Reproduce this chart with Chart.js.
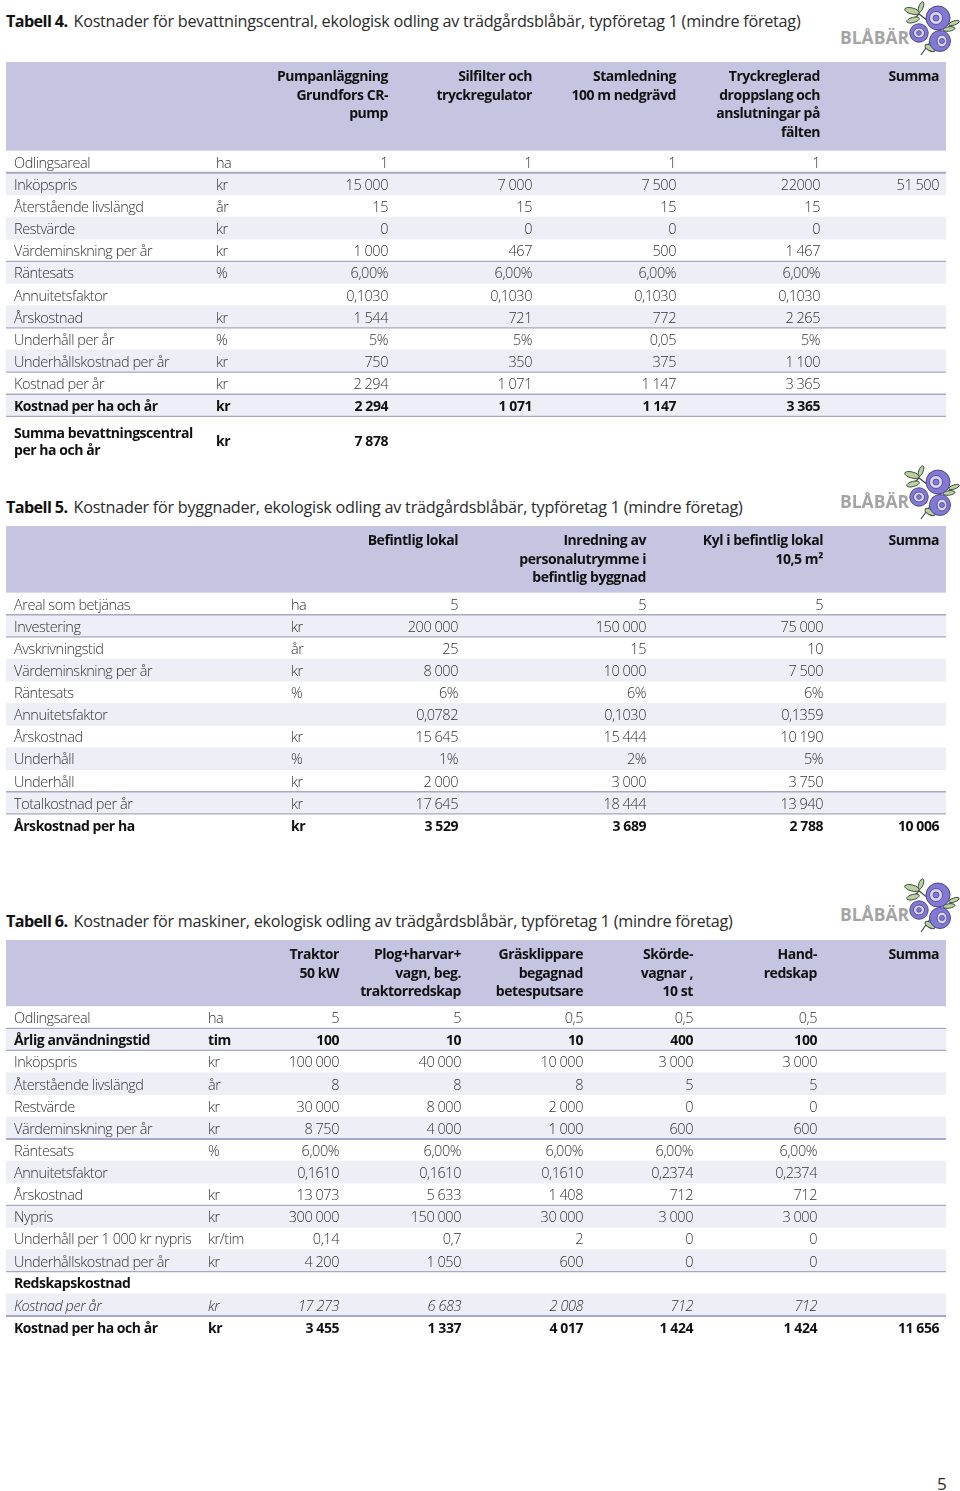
<!DOCTYPE html>
<html lang="sv">
<head>
<meta charset="utf-8">
<title>Tabell 4-6 Blåbär</title>
<script src="https://cdn.jsdelivr.net/npm/chart.js@4/dist/chart.umd.min.js"></script>
<style>
  html, body { margin: 0; padding: 0; background: #fff; }
  body { position: relative; width: 960px; height: 1491px; overflow: hidden; font-family: "Open Sans", sans-serif; color: #2b2b2b; }
  .tabell-titel { position: absolute; left: 6px; font-size: 16.2px; line-height: 20px; letter-spacing: -0.25px; white-space: nowrap; }
  .tabell-titel b { color: #111; font-weight: 700; letter-spacing: -0.6px; margin-right: 2px; }
  canvas { position: absolute; left: 6px; }
  .logo { position: absolute; left: 835px; width: 125px; height: 62px; }
  #sida { position: absolute; left: 937px; top: 1474px; font-size: 17px; line-height: 20px; }
</style>
</head>
<body>
<svg width="0" height="0" style="position:absolute">
  <symbol id="logo" viewBox="0 0 125 62">
    <path d="M86 55 L98 38 M92 47 L96 49 M78 9 L104 30 M84 12 L86 6 M84 14 L78 20 M110 29 L118 25" stroke="#3d4a3c" stroke-width="1.2" fill="none"/>
    <g fill="#b9d0a0" stroke="#3d4a3c" stroke-width="0.9">
      <ellipse cx="77" cy="11" rx="7.5" ry="3" transform="rotate(15 77 11)"/>
      <ellipse cx="86" cy="7" rx="5.5" ry="2.2" transform="rotate(-70 86 7)"/>
      <ellipse cx="78" cy="20" rx="6.5" ry="2.6" transform="rotate(-15 78 20)"/>
      <ellipse cx="119" cy="23" rx="5.5" ry="2" transform="rotate(-20 119 23)"/>
      <ellipse cx="114" cy="29" rx="6" ry="2.2" transform="rotate(-8 114 29)"/>
      <ellipse cx="95" cy="48" rx="5.5" ry="2.6" transform="rotate(30 95 48)"/>
    </g>
    <g fill="#8279d3" stroke="#4d4796" stroke-width="1">
      <circle cx="103" cy="18" r="12"/>
      <circle cx="105" cy="41" r="10.5"/>
      <circle cx="84" cy="33" r="9.2"/>
    </g>
    <g fill="#d9d6f2" stroke="#4d4796" stroke-width="0.9">
      <ellipse cx="101" cy="18" rx="6.5" ry="6.5"/>
      <ellipse cx="107" cy="41" rx="5" ry="6"/>
      <ellipse cx="84" cy="33" rx="5.5" ry="5"/>
    </g>
    <g fill="#8279d3" stroke="#4d4796" stroke-width="0.8">
      <circle cx="101" cy="18" r="3"/>
      <circle cx="107" cy="41" r="2.5"/>
      <circle cx="84" cy="33" r="2.3"/>
    </g>
    <text x="5" y="44" font-family="'Open Sans', sans-serif" font-weight="700" font-size="18" textLength="69" lengthAdjust="spacingAndGlyphs" fill="#a4a4a4">BLÅBÄR</text>
  </symbol>
</svg>

<div class="tabell-titel" style="top:11px"><b>Tabell 4.</b> Kostnader för bevattningscentral, ekologisk odling av trädgårdsblåbär, typföretag 1 (mindre företag)</div>
<svg class="logo" style="top:0"><use href="#logo"/></svg>
<canvas id="tabell4"></canvas>

<div class="tabell-titel" style="top:497px"><b>Tabell 5.</b> Kostnader för byggnader, ekologisk odling av trädgårdsblåbär, typföretag 1 (mindre företag)</div>
<svg class="logo" style="top:464px"><use href="#logo"/></svg>
<canvas id="tabell5"></canvas>

<div class="tabell-titel" style="top:911px"><b>Tabell 6.</b> Kostnader för maskiner, ekologisk odling av trädgårdsblåbär, typföretag 1 (mindre företag)</div>
<svg class="logo" style="top:877px"><use href="#logo"/></svg>
<canvas id="tabell6"></canvas>

<div id="sida">5</div>

<script>
// Tabell 4
const t4Rader = ['Odlingsareal', 'Inköpspris', 'Återstående livslängd', 'Restvärde', 'Värdeminskning per år', 'Räntesats', 'Annuitetsfaktor', 'Årskostnad', 'Underhåll per år', 'Underhållskostnad per år', 'Kostnad per år', 'Kostnad per ha och år', ['Summa bevattningscentral', 'per ha och år']];
const t4Enheter = ['ha', 'kr', 'år', 'kr', 'kr', '%', '', 'kr', '%', 'kr', 'kr', 'kr', 'kr'];
const t4Rubriker = [['Pumpanläggning', 'Grundfors CR-', 'pump'], ['Silfilter och', 'tryckregulator'], ['Stamledning', '100 m nedgrävd'], ['Tryckreglerad', 'droppslang och', 'anslutningar på', 'fälten'], ['Summa']];
const t4Pump = ['1', '15 000', '15', '0', '1 000', '6,00%', '0,1030', '1 544', '5%', '750', '2 294', '2 294', '7 878'];
const t4Silfilter = ['1', '7 000', '15', '0', '467', '6,00%', '0,1030', '721', '5%', '350', '1 071', '1 071', ''];
const t4Stamledning = ['1', '7 500', '15', '0', '500', '6,00%', '0,1030', '772', '0,05', '375', '1 147', '1 147', ''];
const t4Droppslang = ['1', '22000', '15', '0', '1 467', '6,00%', '0,1030', '2 265', '5%', '1 100', '3 365', '3 365', ''];
const t4Summa = ['', '51 500', '', '', '', '', '', '', '', '', '', '', ''];

// Tabell 5
const t5Rader = ['Areal som betjänas', 'Investering', 'Avskrivningstid', 'Värdeminskning per år', 'Räntesats', 'Annuitetsfaktor', 'Årskostnad', 'Underhåll', 'Underhåll', 'Totalkostnad per år', 'Årskostnad per ha'];
const t5Enheter = ['ha', 'kr', 'år', 'kr', '%', '', 'kr', '%', 'kr', 'kr', 'kr'];
const t5Rubriker = [['Befintlig lokal'], ['Inredning av', 'personalutrymme i', 'befintlig byggnad'], ['Kyl i befintlig lokal', '10,5 m²'], ['Summa']];
const t5Lokal = ['5', '200 000', '25', '8 000', '6%', '0,0782', '15 645', '1%', '2 000', '17 645', '3 529'];
const t5Inredning = ['5', '150 000', '15', '10 000', '6%', '0,1030', '15 444', '2%', '3 000', '18 444', '3 689'];
const t5Kyl = ['5', '75 000', '10', '7 500', '6%', '0,1359', '10 190', '5%', '3 750', '13 940', '2 788'];
const t5Summa = ['', '', '', '', '', '', '', '', '', '', '10 006'];

// Tabell 6
const t6Rader = ['Odlingsareal', 'Årlig användningstid', 'Inköpspris', 'Återstående livslängd', 'Restvärde', 'Värdeminskning per år', 'Räntesats', 'Annuitetsfaktor', 'Årskostnad', 'Nypris', 'Underhåll per 1 000 kr nypris', 'Underhållskostnad per år', 'Redskapskostnad', 'Kostnad per år', 'Kostnad per ha och år'];
const t6Enheter = ['ha', 'tim', 'kr', 'år', 'kr', 'kr', '%', '', 'kr', 'kr', 'kr/tim', 'kr', '', 'kr', 'kr'];
const t6Rubriker = [['Traktor', '50 kW'], ['Plog+harvar+', 'vagn, beg.', 'traktorredskap'], ['Gräsklippare', 'begagnad', 'betesputsare'], ['Skörde-', 'vagnar ,', '10 st'], ['Hand-', 'redskap'], ['Summa']];
const t6Traktor = ['5', '100', '100 000', '8', '30 000', '8 750', '6,00%', '0,1610', '13 073', '300 000', '0,14', '4 200', '', '17 273', '3 455'];
const t6Plog = ['5', '10', '40 000', '8', '8 000', '4 000', '6,00%', '0,1610', '5 633', '150 000', '0,7', '1 050', '', '6 683', '1 337'];
const t6Gras = ['0,5', '10', '10 000', '8', '2 000', '1 000', '6,00%', '0,1610', '1 408', '30 000', '2', '600', '', '2 008', '4 017'];
const t6Skorde = ['0,5', '400', '3 000', '5', '0', '600', '6,00%', '0,2374', '712', '3 000', '0', '0', '', '712', '1 424'];
const t6Hand = ['0,5', '100', '3 000', '5', '0', '600', '6,00%', '0,2374', '712', '3 000', '0', '0', '', '712', '1 424'];
const t6Summa = ['', '', '', '', '', '', '', '', '', '', '', '', '', '', '11 656'];

const FONT = '"Open Sans"';
const FONT_SIZE = 14.5;
const FET_SIZE = 14;
const SPARNING = '-0.45px';
const LINJE = 18.7;
const TEXT_NER = 1.8;
const FARG_RUBRIK = '#c5c4e1';
const FARG_RAND = '#eeeef7';
const FARG_LINJE = '#a8a7c8';
const FARG_TEXT = '#333';
const FARG_FET = '#111';

function radStil(tabell, i) {
    const fet = tabell.fet.includes(i);
    const kursiv = tabell.kursiv.includes(i);
    return {
        color: fet ? FARG_FET : FARG_TEXT,
        font: { family: FONT, size: fet ? FET_SIZE : FONT_SIZE, weight: fet ? '700' : '300', style: kursiv ? 'italic' : 'normal' }
    };
}

// ritar cellernas text vid de punkter som skalorna räknat ut
const celltext = {
    id: 'celltext',
    afterDatasetsDraw(chart) {
        const ctx = chart.ctx;
        ctx.save();
        ctx.textBaseline = 'middle';
        chart.data.datasets.forEach((ds, d) => {
            if (!ds.celler) return;
            chart.getDatasetMeta(d).data.forEach((el, i) => {
                if (!ds.celler[i]) return;
                const stil = radStil(chart.options.tabell, i);
                ctx.font = `${stil.font.style} ${stil.font.weight} ${stil.font.size}px ${stil.font.family}`;
                ctx.fillStyle = stil.color;
                ctx.textAlign = ds.justering;
                ctx.fillText(ds.celler[i], el.x, el.y);
            });
        });
        ctx.restore();
    }
};

const rubrikband = {
    id: 'rubrikband',
    beforeDraw(chart) {
        const s = chart.scales.x;
        chart.ctx.letterSpacing = SPARNING;
        chart.ctx.fillStyle = FARG_RUBRIK;
        chart.ctx.fillRect(s.left, s.top, s.width, s.height);
    }
};

function ritaTabell(id, t) {
    const topp = [];
    let y = 0;
    t.hojder.forEach(h => { topp.push(y); y += h; });
    const mitter = t.hojder.map((h, i) => topp[i] + h / 2);
    const botten = t.hojder.map((h, i) => topp[i] + h);
    const textY = mitter.map(m => m + TEXT_NER);
    const totalt = y;

    const canvas = document.getElementById(id);
    canvas.style.top = t.top + 'px';
    canvas.width = 940;
    canvas.height = t.rubrikHojd + totalt;

    const maxRader = Math.max(...t.rubriker.map(r => r.length));
    const rubrikPadding = t.rubrikHojd - 23 - (maxRader - 0.5) * LINJE;

    const datasets = [{
        type: 'bar', order: 3, barThickness: R, backgroundColor: FARG_RAND, borderWidth: 0, borderSkipped: false,
        data: t.randade.map(i => ({ x: [6, 946], y: mitter[i] }))
    }];
    const linje = (i, tjocklek) => ({
        type: 'line', order: 2, borderColor: FARG_LINJE, borderWidth: tjocklek, pointRadius: 0,
        data: [{ x: 6, y: botten[i] }, { x: 946, y: botten[i] }]
    });
    t.linjer.forEach(i => datasets.push(linje(i, 1.3)));
    t.tjockaLinjer.forEach(i => datasets.push(linje(i, 2)));
    const kolumn = (celler, xpos, justering) => ({
        type: 'scatter', order: 1, pointRadius: 0, celler: celler, justering: justering,
        data: celler.map((c, i) => ({ x: xpos, y: textY[i] }))
    });
    datasets.push(kolumn(t.enheter, t.enhetX, 'left'));
    t.kolumner.forEach((k, i) => datasets.push(kolumn(k, t.kanter[i], 'right')));

    new Chart(canvas, {
        type: 'bar',
        data: { datasets: datasets },
        plugins: [rubrikband, celltext],
        options: {
            tabell: t,
            indexAxis: 'y',
            responsive: false,
            animation: false,
            layout: { padding: 0 },
            plugins: { legend: { display: false }, title: { display: false }, tooltip: { enabled: false } },
            scales: {
                x: {
                    type: 'linear', position: 'top', min: 6, max: 946,
                    grid: { display: false }, border: { display: false },
                    afterBuildTicks: s => { s.ticks = t.kanter.map(v => ({ value: v })); },
                    afterFit: s => { s.height = t.rubrikHojd; s.paddingLeft = 0; s.paddingRight = 0; },
                    ticks: {
                        autoSkip: false, minRotation: 0, maxRotation: 0, align: 'end', crossAlign: 'far',
                        padding: rubrikPadding, color: FARG_FET,
                        font: { family: FONT, size: FET_SIZE, weight: '700', lineHeight: LINJE / FET_SIZE },
                        callback: (v, i) => t.rubriker[i]
                    }
                },
                y: {
                    type: 'linear', position: 'left', reverse: true, offset: false, min: 0, max: totalt,
                    grid: { display: false, drawTicks: false }, border: { display: false },
                    afterBuildTicks: s => { s.ticks = textY.map(v => ({ value: v })); },
                    // etiketterna får inte krympa ritytan
                    afterFit: s => { s.width = 0; s.paddingTop = 0; s.paddingBottom = 0; },
                    ticks: {
                        z: 1, mirror: true, padding: 8, autoSkip: false,
                        color: c => radStil(t, c.index).color,
                        font: c => Object.assign({ lineHeight: 18 / FONT_SIZE }, radStil(t, c.index).font),
                        callback: (v, i) => t.rader[i]
                    }
                }
            }
        }
    });
}

const R = 22.15;

ritaTabell('tabell4', {
    top: 62, rubrikHojd: 88.6,
    hojder: [R, R, R, R, R, R, R, R, R, R, R, R, 48.6],
    rader: t4Rader, enheter: t4Enheter, rubriker: t4Rubriker,
    kolumner: [t4Pump, t4Silfilter, t4Stamledning, t4Droppslang, t4Summa],
    kanter: [388, 532, 676, 820, 939], enhetX: 216,
    randade: [1, 3, 5, 7, 9, 11], linjer: [4, 7, 9, 10, 11], tjockaLinjer: [0],
    fet: [11, 12], kursiv: []
});

ritaTabell('tabell5', {
    top: 526, rubrikHojd: 66.6,
    hojder: [R, R, R, R, R, R, R, R, R, R, R],
    rader: t5Rader, enheter: t5Enheter, rubriker: t5Rubriker,
    kolumner: [t5Lokal, t5Inredning, t5Kyl, t5Summa],
    kanter: [458, 646, 823, 939], enhetX: 291,
    randade: [1, 3, 5, 7, 9], linjer: [0, 1, 8, 9], tjockaLinjer: [],
    fet: [10], kursiv: []
});

ritaTabell('tabell6', {
    top: 940, rubrikHojd: 66.2,
    hojder: [R, R, R, R, R, R, R, R, R, R, R, R, R, R, R],
    rader: t6Rader, enheter: t6Enheter, rubriker: t6Rubriker,
    kolumner: [t6Traktor, t6Plog, t6Gras, t6Skorde, t6Hand, t6Summa],
    kanter: [339, 461, 583, 693, 817, 939], enhetX: 208,
    randade: [1, 3, 5, 7, 9, 11, 13], linjer: [0, 1, 8, 11], tjockaLinjer: [5, 13],
    fet: [1, 12, 14], kursiv: [13]
});
</script>
</body>
</html>
